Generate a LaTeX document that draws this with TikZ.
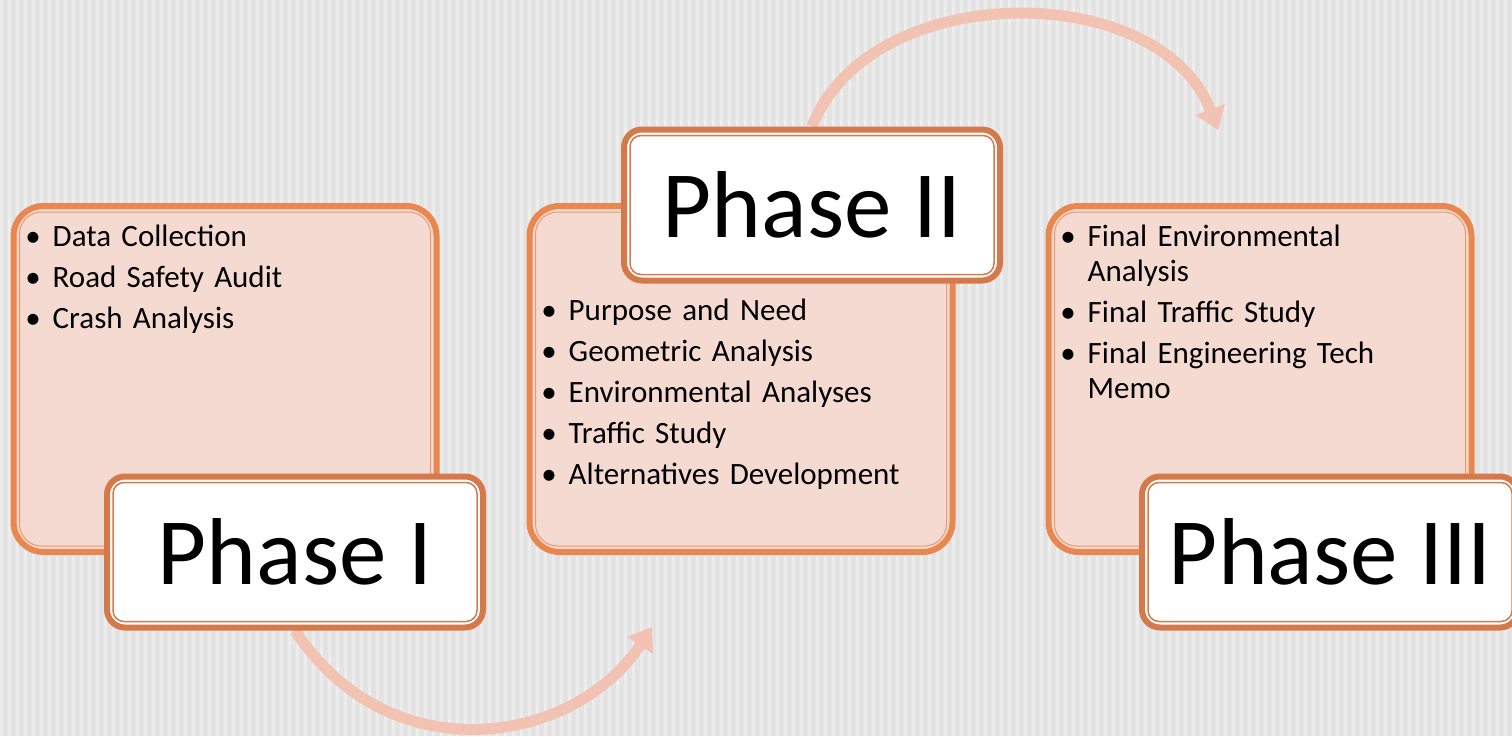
\documentclass[tikz,border=0pt]{standalone}
\usepackage{fontspec}
\setmainfont{Carlito}
\usetikzlibrary{arrows.meta,positioning}

\definecolor{bgray}{HTML}{E3E3E3}
\definecolor{bstripe}{HTML}{EDEDED}
\definecolor{cardfill}{HTML}{F5DAD1}
\definecolor{cardline}{HTML}{E8874F}
\definecolor{tagline}{HTML}{D47A4A}
\definecolor{flow}{HTML}{F2C3B2}

\setlength{\leftmargini}{22pt}
\setlength{\labelsep}{12pt}
\newenvironment{phaselist}{\begin{itemize}\setlength{\itemsep}{6pt}\setlength{\parskip}{0pt}}{\end{itemize}}

\pgfdeclarelayer{under}
\pgfsetlayers{under,main}

\begin{document}
\begin{tikzpicture}[x=1pt, y=-1pt,
    card/.style = {draw=cardline, line width=6pt, fill=cardfill, rounded corners=30pt,
        minimum width=423pt, minimum height=346pt, inner sep=0pt},
    cardin/.style = {draw=cardline!85, line width=1pt, rounded corners=22pt},
    tag/.style = {draw=tagline, line width=6pt, fill=white, rounded corners=18pt,
        minimum width=376pt, minimum height=151pt, inner sep=0pt,
        font=\fontsize{95}{110}\selectfont},
    tagin/.style = {draw=tagline, line width=1.5pt, rounded corners=11pt},
    items/.style = {anchor=north west, inner sep=0pt, text width=420pt,
        font=\fontsize{31}{35}\selectfont},
    flowarrow/.style = {draw=flow, line width=11pt, -{Triangle[length=22pt,width=30pt]}}]
\useasboundingbox (0,0) rectangle (1512,736);
\clip (0,0) rectangle (1512,736);

% phase I
\node[card] (c1) at (225,379) {};
\draw[cardin] ([shift={(9,9)}]c1.north west) rectangle ([shift={(-9,-9)}]c1.south east);
\node[items, below right=0pt and 20pt of c1.north west] (l1) {\begin{phaselist}
    \item Data Collection
    \item Road Safety Audit
    \item Crash Analysis
\end{phaselist}};
\node[tag] (t1) at (295,552) {Phase I};
\draw[tagin] ([shift={(9,9)}]t1.north west) rectangle ([shift={(-9,-9)}]t1.south east);

% phase II
\node[card] (c2) at (741,379) {};
\draw[cardin] ([shift={(9,9)}]c2.north west) rectangle ([shift={(-9,-9)}]c2.south east);
\node[items, below right=74pt and 20pt of c2.north west] (l2) {\begin{phaselist}
    \item Purpose and Need
    \item Geometric Analysis
    \item Environmental Analyses
    \item Traffic Study
    \item Alternatives Development
\end{phaselist}};
\node[tag] (t2) at (812,205) {Phase II};
\draw[tagin] ([shift={(9,9)}]t2.north west) rectangle ([shift={(-9,-9)}]t2.south east);

% phase III
\node[card] (c3) at (1260,379) {};
\draw[cardin] ([shift={(9,9)}]c3.north west) rectangle ([shift={(-9,-9)}]c3.south east);
\node[items, below right=0pt and 20pt of c3.north west] (l3) {\begin{phaselist}
    \item Final Environmental\newline Analysis
    \item Final Traffic Study
    \item Final Engineering Tech\newline Memo
\end{phaselist}};
\node[tag] (t3) at (1330,552) {Phase III};
\draw[tagin] ([shift={(9,9)}]t3.north west) rectangle ([shift={(-9,-9)}]t3.south east);

\coordinate (a1) at (652,627);
\coordinate (a2) at (1218,130);

\begin{pgfonlayer}{under}
    \fill[bgray] (0,0) rectangle (1512,736);
    \foreach \x in {0,8,...,1512}
        \fill[bstripe] (\x,0) rectangle ++(3,736);
    \draw[flowarrow] (t1.south) .. controls (390,775) and (575,745) .. (a1);
    \draw[flowarrow] (t2.north) .. controls (870,-22) and (1160,-22) .. (a2);
\end{pgfonlayer}
\end{tikzpicture}
\end{document}
